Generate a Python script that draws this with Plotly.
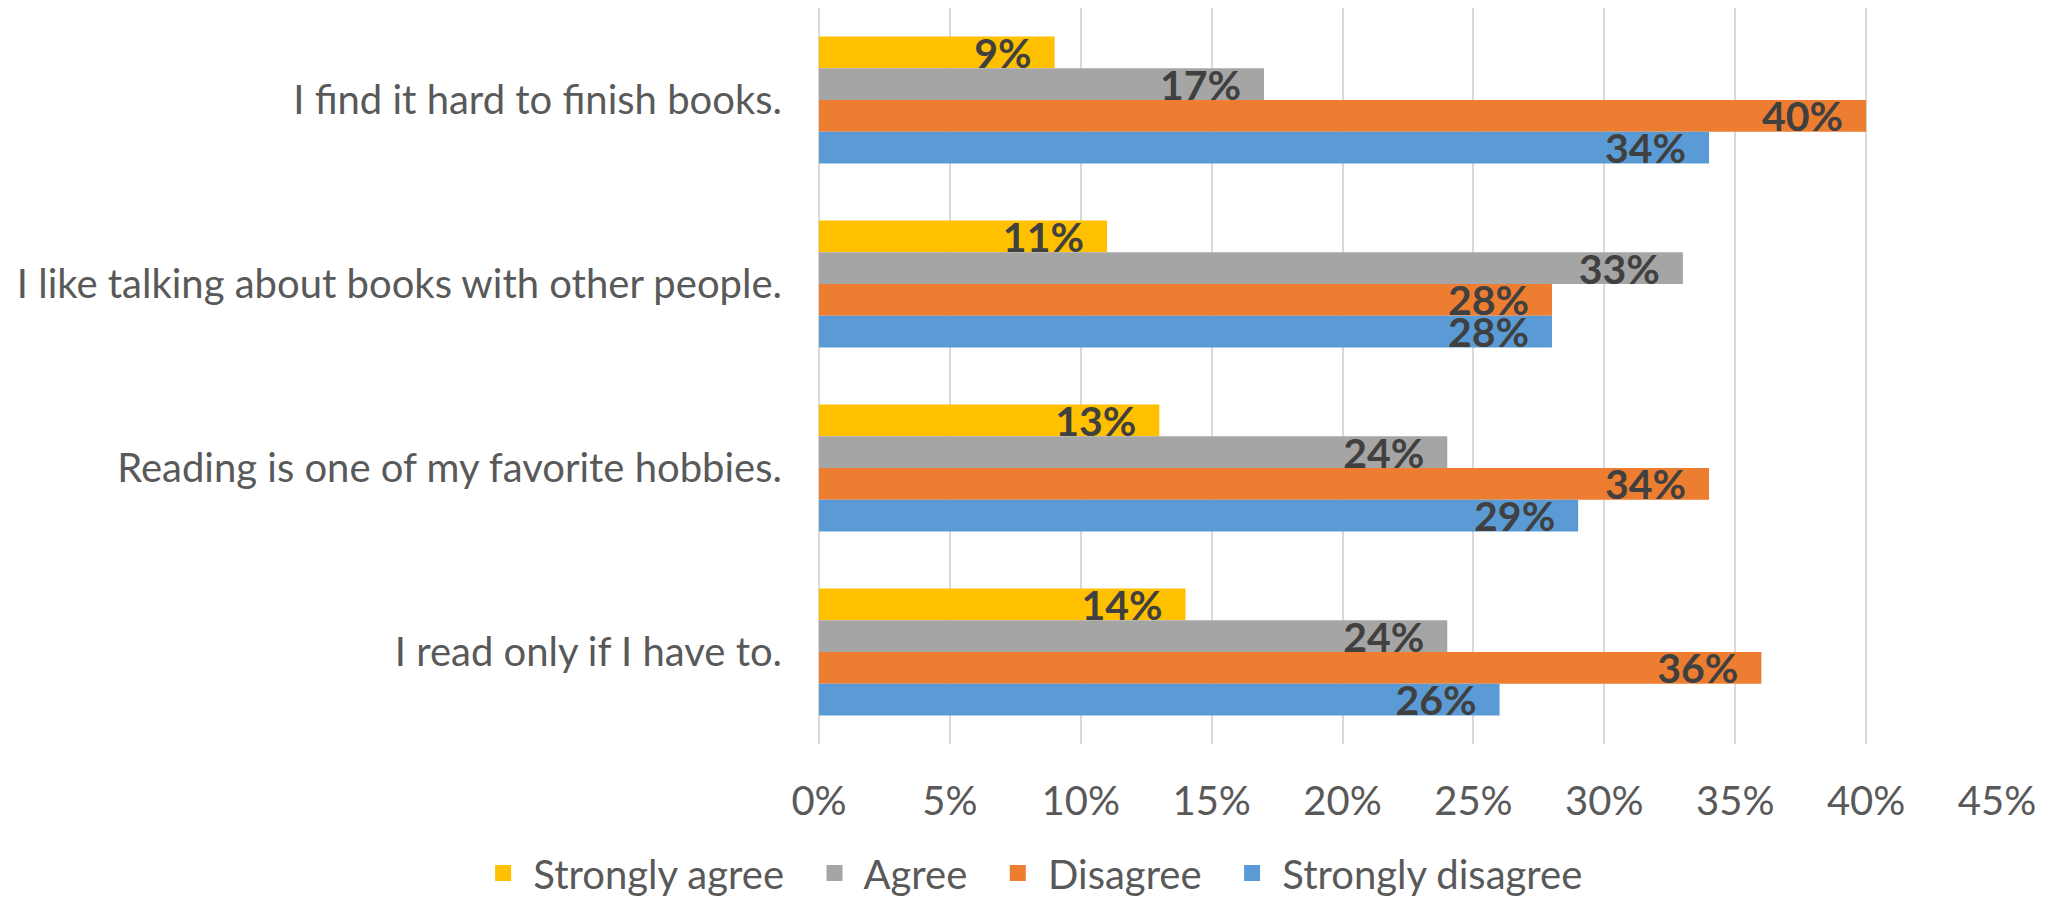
import plotly.graph_objects as go

categories = [
    "I find it hard to finish books.",
    "I like talking about books with other people.",
    "Reading is one of my favorite hobbies.",
    "I read only if I have to.",
]
series_names = ["Strongly agree", "Agree", "Disagree", "Strongly disagree"]
strongly_agree = [9, 11, 13, 14]
agree = [17, 33, 24, 24]
disagree = [40, 28, 34, 36]
strongly_disagree = [34, 28, 29, 26]
series_values = [strongly_agree, agree, disagree, strongly_disagree]
colors = ["#FFC000", "#A5A5A5", "#ED7D31", "#5B9BD5"]
x_tick_vals = [0, 5, 10, 15, 20, 25, 30, 35, 40, 45]
x_tick_text = ["0%", "5%", "10%", "15%", "20%", "25%", "30%", "35%", "40%", "45%"]

FONT = "Lato, 'Open Sans', sans-serif"
NB = "\u00a0"

fig = go.Figure()
for name, vals, col in zip(series_names, series_values, colors):
    fig.add_trace(go.Bar(
        name=name,
        y=categories,
        x=vals,
        orientation="h",
        marker=dict(color=col, line=dict(width=0)),
        text=[f"{v}%" for v in vals],
        texttemplate="%{text}" + NB * 2,
        textposition="inside",
        insidetextanchor="end",
        constraintext="none",
        textangle=0,
        textfont=dict(family=FONT, size=41, color="#404040", weight="bold"),
        hoverinfo="skip",
        showlegend=False,
    ))

# legend-only entries with square swatches
n = len(series_names)
for i, (name, col) in enumerate(zip(series_names, colors)):
    label = NB + name + (NB * 2 + "\u2009" if i < n - 1 else "")
    fig.add_trace(go.Scatter(
        name=label,
        x=[None], y=[None],
        mode="markers",
        marker=dict(symbol="square", size=22, color=col),
        showlegend=True,
        hoverinfo="skip",
    ))

fig.update_layout(
    width=2043,
    height=889,
    margin=dict(l=811, r=54, t=0, b=153, autoexpand=False),
    paper_bgcolor="white",
    plot_bgcolor="white",
    barmode="group",
    bargap=0.31,
    bargroupgap=0,
    font=dict(family=FONT, color="#595959"),
    showlegend=True,
    legend=dict(
        orientation="h",
        xref="container", yref="container",
        x=0.503, xanchor="center",
        y=0.027, yanchor="middle",
        font=dict(family=FONT, size=40, color="#595959"),
        traceorder="normal",
        itemwidth=30,
    ),
    xaxis=dict(
        range=[0, 45],
        tickvals=x_tick_vals,
        ticktext=x_tick_text,
        showgrid=True,
        gridcolor="#D9D9D9",
        gridwidth=2,
        zeroline=True,
        zerolinecolor="#D9D9D9",
        zerolinewidth=2,
        showline=False,
        ticks="",
        ticklabelstandoff=30,
        tickfont=dict(family=FONT, size=40, color="#595959"),
        fixedrange=True,
        automargin=False,
    ),
    yaxis=dict(
        categoryorder="array",
        categoryarray=categories,
        autorange="reversed",
        showgrid=False,
        zeroline=False,
        showline=False,
        ticks="",
        ticklabelstandoff=36,
        tickfont=dict(family=FONT, size=40, color="#595959"),
        fixedrange=True,
        automargin=False,
    ),
)

fig.write_html("out.html")
